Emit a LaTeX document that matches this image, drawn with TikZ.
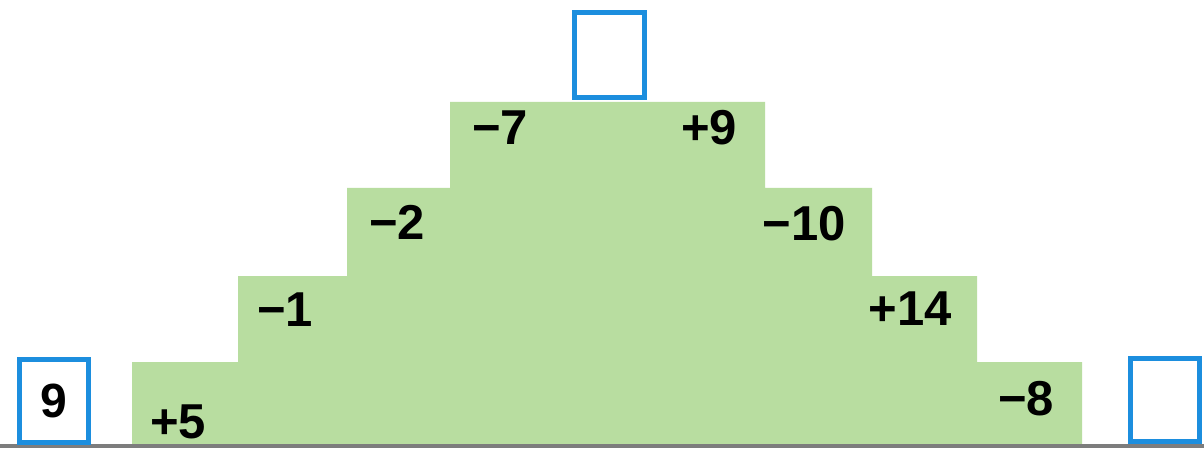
\documentclass[tikz,border=0pt]{standalone}
\usepackage{fontspec}
\setmainfont{Liberation Sans}
\definecolor{stepgreen}{RGB}{184,221,160}
\definecolor{boxblue}{RGB}{28,142,222}
\definecolor{groundgray}{RGB}{125,125,125}
\begin{document}
\begin{tikzpicture}[x=1pt,y=-1pt,
  answerbox/.style={draw=boxblue, line width=5pt, fill=white, minimum width=69pt, minimum height=83pt, inner sep=0pt,
    font=\fontsize{48}{50}\selectfont\bfseries},
  oplabel/.style={anchor=base, inner sep=0pt, font=\fontsize{49}{50}\selectfont\bfseries}]
\useasboundingbox (0,0) rectangle (1204,457);
\fill[white] (0,0) rectangle (1204,457);
% staircase
\fill[stepgreen] (132,446) -- (132,362) -- (238,362) -- (238,276) -- (347,276) -- (347,188)
  -- (450,188) -- (450,102) -- (765,102) -- (765,188) -- (872,188) -- (872,276)
  -- (977,276) -- (977,362) -- (1082,362) -- (1082,446) -- cycle;
% ground line
\coordinate (gl) at (0,446);
\coordinate (gr) at (1204,446);
\draw[groundgray, line width=3.5pt] (gl) -- (gr);
% boxes
\node[answerbox] (start) at (54,401) {9};
\node[answerbox, minimum width=70pt, minimum height=85pt] (top) at (609.5,55) {};
\node[answerbox] (finish) at (1165,400) {};
% operations
\node[oplabel] (o1) at (178,438) {+5};
\node[oplabel] (o2) at (285,326) {−1};
\node[oplabel] (o3) at (397,239) {−2};
\node[oplabel] (o4) at (500,145) {−7};
\node[oplabel] (o5) at (709,145) {+9};
\node[oplabel] (o6) at (804,240) {−10};
\node[oplabel] (o7) at (910,325) {+14};
\node[oplabel] (o8) at (1026,415) {−8};
\end{tikzpicture}
\end{document}
